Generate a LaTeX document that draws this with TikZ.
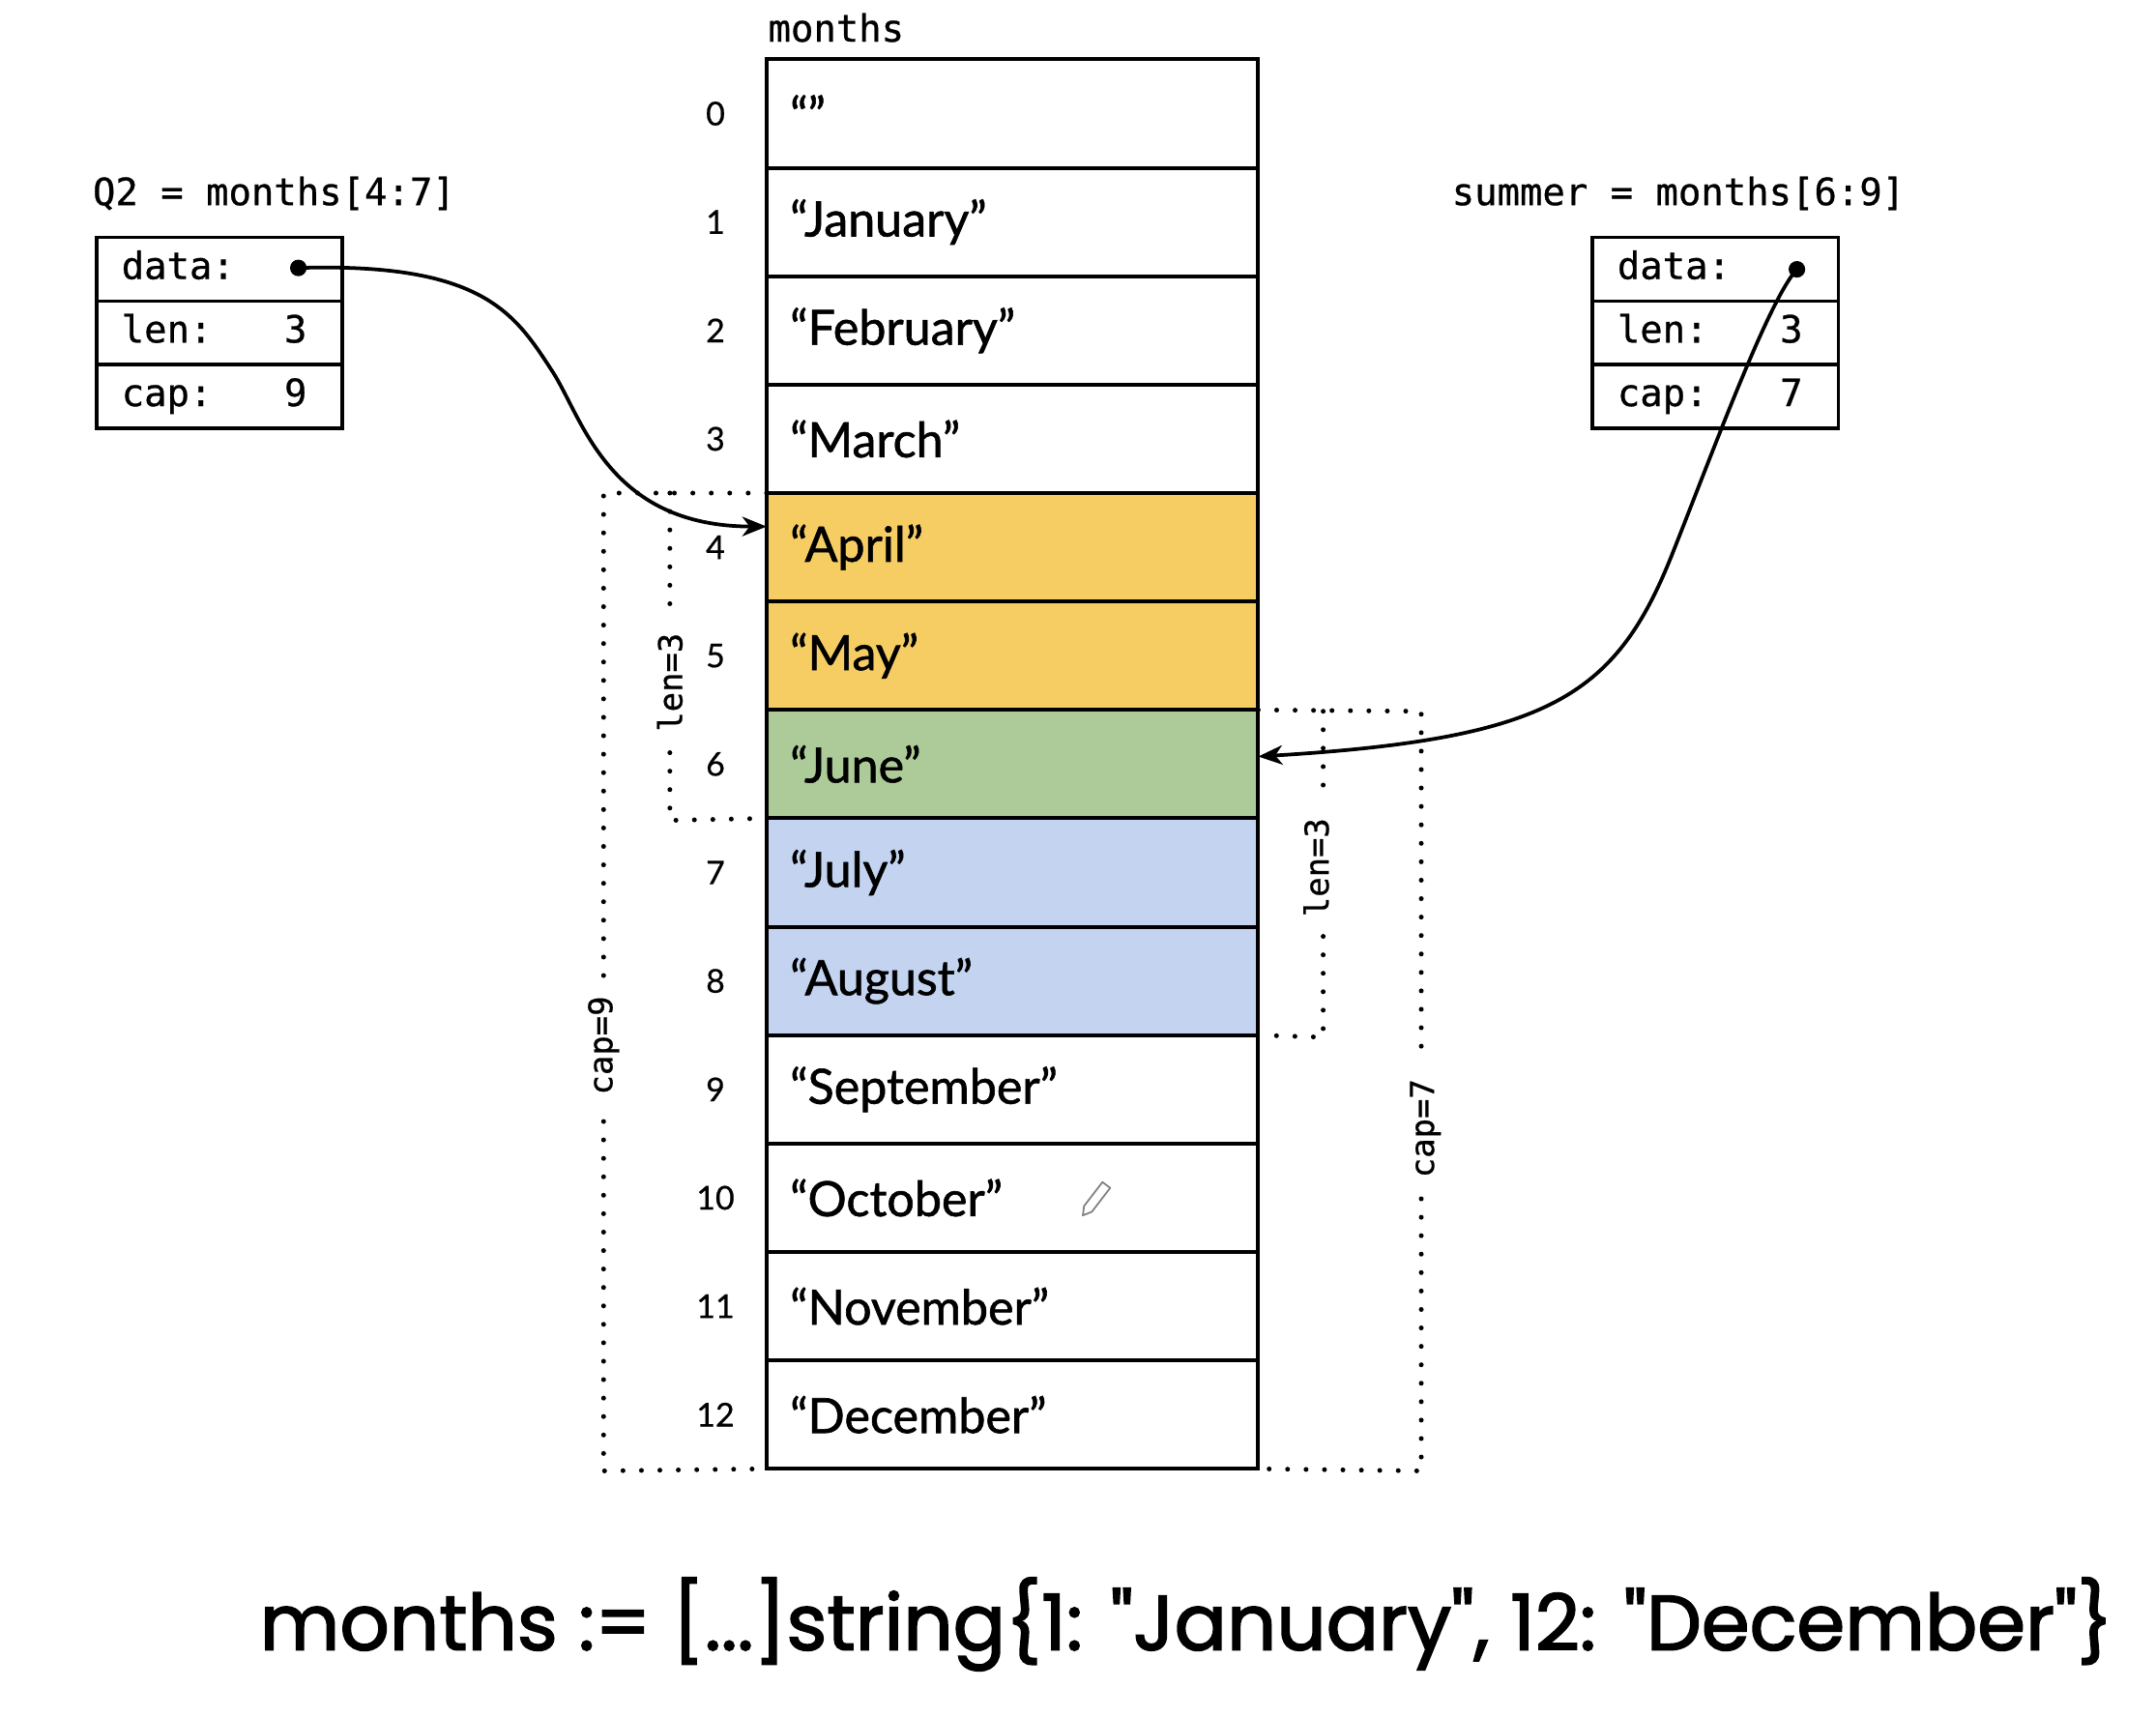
\documentclass[tikz,border=0pt]{standalone}
\usepackage{fontspec}
\setmainfont{Lato}
\newfontfamily\cellf{Lato}[FakeBold=1.2]
\newfontfamily\idxf{Lato}[FakeBold=0.6]
\newfontfamily\monof{DejaVu Sans Mono}[FakeBold=0.7]
\newfontfamily\geof{Poppins}[FakeBold=2]
\usetikzlibrary{arrows.meta}
\definecolor{cyellow}{HTML}{F6CD63}
\definecolor{cgreen}{HTML}{ADCB98}
\definecolor{cblue}{HTML}{C3D3F0}
\begin{document}
\begin{tikzpicture}[x=0.02cm,y=-0.02cm,
  cell/.style={draw=black, line width=1.6pt, minimum width=7.12cm, minimum height=1.57cm,
    text width=6.44cm, inner xsep=0.34cm, inner ysep=0pt, outer sep=0pt, align=left,
    font=\cellf\fontsize{20}{22}\selectfont},
  idx/.style={font=\idxf\fontsize{13.5}{15}\selectfont},
  field/.style={draw=black, line width=1.4pt, minimum width=3.56cm, minimum height=0.92cm,
    text width=2.84cm, inner xsep=0.36cm, inner ysep=0pt, outer sep=0pt, align=left, anchor=north west,
    text height=11pt, text depth=3pt, font=\monof\fontsize{15.5}{17}\selectfont},
  monolab/.style={font=\monof\fontsize{15.5}{17}\selectfont},
  val/.style={text height=11pt, text depth=3pt, font=\monof\fontsize{15.5}{17}\selectfont},
  rlab/.style={rotate=90, font=\monof\fontsize{13.5}{15}\selectfont},
  dots/.style={line width=2pt, line cap=round, dash pattern=on 0pt off 7.6pt},
  ptr/.style={line width=1.5pt, -{Stealth[length=10pt,width=8pt,inset=3pt]}},
]
\useasboundingbox (0,0) rectangle (1561,1243);

% array
\node[monolab, anchor=west] (mlabel) at (550,20) {months};
\foreach \k/\t/\c in {0/{“”}/white,1/{“January”}/white,2/{“February”}/white,3/{“March”}/white,
  4/{“April”}/cyellow,5/{“May”}/cyellow,6/{“June”}/cgreen,7/{“July”}/cblue,8/{“August”}/cblue,
  9/{“September”}/white,10/{“October”}/white,11/{“November”}/white,12/{“December”}/white}{
  \node[cell, fill=\c] (c\k) at (733,{82.25+78.5*\k}) {\t};
  \node[idx] (i\k) at (518,{82.25+78.5*\k}) {\k};
}
% Q2 box
\node[monolab, anchor=west] (q2lab) at (61,140) {Q2 = months[4:7]};
\node[field] (q2d) at (70,172) {data:};
\node[field] (q2l) at (70,218) {len:};
\node[field] (q2c) at (70,264) {cap:};
\node[val] (q2lv) at (214,241) {3};
\node[val] (q2cv) at (214,287) {9};
\coordinate (q2dot) at (216,194);
\fill (q2dot) circle (0.12cm);

% summer box
\node[monolab, anchor=west] (smlab) at (1045,140) {summer = months[6:9]};
\node[field] (sd) at (1153,172) {data:};
\node[field] (sl) at (1153,218) {len:};
\node[field] (sc) at (1153,264) {cap:};
\node[val] (slv) at (1297,241) {3};
\node[val] (scv) at (1297,287) {7};
\coordinate (sdot) at (1301,195);
\fill (sdot) circle (0.12cm);

% Q2 dotted ranges
\coordinate (qa) at (437,357);
\coordinate (qb) at (437,1065);
\coordinate (qi) at (485,357);
\coordinate (qj) at (485,594);
\draw[dots] (c4.north west) -- (qa) -- (437,708);
\node[rlab] (q2cap) at (437,757) {cap=9};
\draw[dots] (437,812) -- (qb) -- (c12.south west);
\draw[dots] (qi) -- (485,445);
\node[rlab] (q2len) at (485,494) {len=3};
\draw[dots] (485,545) -- (qj) -- (c6.south west);

% summer dotted ranges
\coordinate (sa) at (1029,515);
\coordinate (sb) at (1029,1065);
\coordinate (si) at (958,515);
\coordinate (sj) at (958,751);
\draw[dots] (c6.north east) -- (sa) -- (1029,768);
\node[rlab] (scap) at (1032,817) {cap=7};
\draw[dots] (1029,868) -- (sb) -- (c12.south east);
\draw[dots] (si) -- (958,580);
\node[rlab] (slen) at (953,628) {len=3};
\draw[dots] (958,678) -- (sj) -- (c8.south east);

% pointers
\draw[ptr] (q2dot) .. controls (350,190) and (372.7,227) .. (400,269)
  .. controls (421.8,302.5) and (440,381) .. ([yshift=0.3cm]c4.west);
\draw[ptr] (sdot) .. controls (1280,218) and (1239.6,328.6) .. (1210,403)
  .. controls (1169,505) and (1120,535) .. ([yshift=0.11cm]c6.east);

% pencil cursor
\draw[gray, line width=0.7pt, line join=round] (784,880) -- (790.5,877.4) -- (803.8,860.1) -- (798.2,855.9) -- (784.9,873.2) -- cycle;

% code line
\node (code) at (859,1176) {\resizebox{26.84cm}{!}{\geof months := [...]string\{1: "January", 12: "December"\}}};
\end{tikzpicture}
\end{document}
